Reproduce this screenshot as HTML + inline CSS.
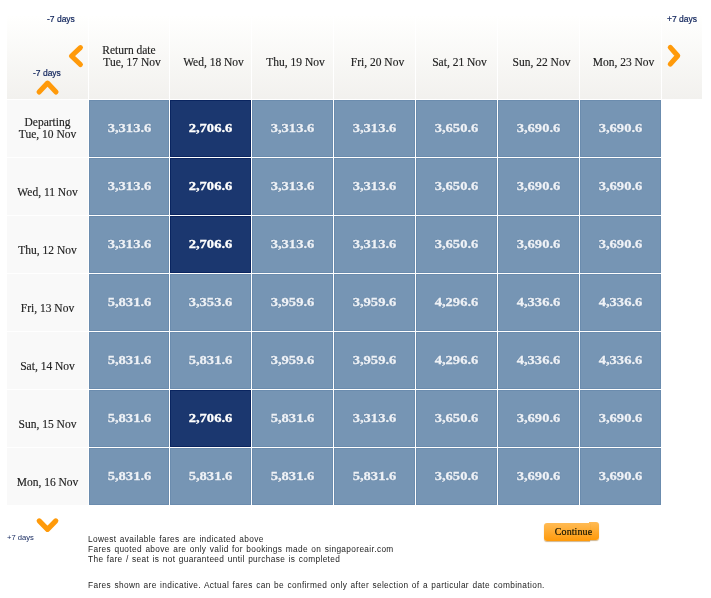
<!DOCTYPE html>
<html><head><meta charset="utf-8"><title>Fare calendar</title>
<style>
html,body{margin:0;padding:0;background:#fff;}
body{width:711px;height:598px;position:relative;overflow:hidden;font-family:"Liberation Serif",serif;}
.a{position:absolute;box-sizing:border-box;}
.h{background:linear-gradient(#fffffe,#f2f1ee);top:16px;height:83px;}
.n{display:inline-block;transform:scaleX(1.12);-webkit-text-stroke:.3px currentColor;}
.p{padding-left:6px;}
.ht{position:absolute;left:0;right:0;top:28px;text-align:center;font-size:11.5px;letter-spacing:0;line-height:12px;color:#222;-webkit-text-stroke:.15px #222;white-space:nowrap;}
.r{background:#f9f9f9;left:7px;width:81px;height:57px;}
.rt{position:absolute;left:0;right:0;top:16px;text-align:center;font-size:11.5px;letter-spacing:0;line-height:12px;color:#222;-webkit-text-stroke:.15px #222;white-space:nowrap;}
.c{background:#7695b4;border:1px solid #6b8cae;height:57px;text-align:center;color:#eef2f7;font-weight:bold;font-size:13px;line-height:54px;text-shadow:0 0 1px rgba(40,60,90,.5);}
.d{background:#1b376f;border:1px solid #0a2560;color:#fff;}
.s{font-family:"Liberation Sans",sans-serif;color:#10245c;-webkit-text-stroke:.2px #10245c;white-space:nowrap;}
.f{font-family:"Liberation Sans",sans-serif;color:#222;font-size:8.3px;line-height:10px;left:88px;white-space:nowrap;letter-spacing:.36px;word-spacing:.75px;}
</style></head><body>

<div class="a h" style="left:7px;width:81px"></div>
<div class="a h" style="left:89px;width:80px"><div class="ht">Return date<br><span class="p">Tue, 17 Nov</span></div></div>
<div class="a h" style="left:170px;width:81px"><div class="ht"><br><span class="p">Wed, 18 Nov</span></div></div>
<div class="a h" style="left:252px;width:81px"><div class="ht"><br><span class="p">Thu, 19 Nov</span></div></div>
<div class="a h" style="left:334px;width:81px"><div class="ht"><br><span class="p">Fri, 20 Nov</span></div></div>
<div class="a h" style="left:416px;width:81px"><div class="ht"><br><span class="p">Sat, 21 Nov</span></div></div>
<div class="a h" style="left:498px;width:81px"><div class="ht"><br><span class="p">Sun, 22 Nov</span></div></div>
<div class="a h" style="left:580px;width:81px"><div class="ht"><br><span class="p">Mon, 23 Nov</span></div></div>
<div class="a h" style="left:662px;width:40px"></div>
<div class="a r" style="top:100px"><div class="rt">Departing<br>Tue, 10 Nov</div></div>
<div class="a c" style="left:89px;top:100px;width:80px"><span class="n">3,313.6</span></div>
<div class="a c d" style="left:170px;top:100px;width:81px"><span class="n">2,706.6</span></div>
<div class="a c" style="left:252px;top:100px;width:81px"><span class="n">3,313.6</span></div>
<div class="a c" style="left:334px;top:100px;width:81px"><span class="n">3,313.6</span></div>
<div class="a c" style="left:416px;top:100px;width:81px"><span class="n">3,650.6</span></div>
<div class="a c" style="left:498px;top:100px;width:81px"><span class="n">3,690.6</span></div>
<div class="a c" style="left:580px;top:100px;width:81px"><span class="n">3,690.6</span></div>
<div class="a r" style="top:158px"><div class="rt"><br>Wed, 11 Nov</div></div>
<div class="a c" style="left:89px;top:158px;width:80px"><span class="n">3,313.6</span></div>
<div class="a c d" style="left:170px;top:158px;width:81px"><span class="n">2,706.6</span></div>
<div class="a c" style="left:252px;top:158px;width:81px"><span class="n">3,313.6</span></div>
<div class="a c" style="left:334px;top:158px;width:81px"><span class="n">3,313.6</span></div>
<div class="a c" style="left:416px;top:158px;width:81px"><span class="n">3,650.6</span></div>
<div class="a c" style="left:498px;top:158px;width:81px"><span class="n">3,690.6</span></div>
<div class="a c" style="left:580px;top:158px;width:81px"><span class="n">3,690.6</span></div>
<div class="a r" style="top:216px"><div class="rt"><br>Thu, 12 Nov</div></div>
<div class="a c" style="left:89px;top:216px;width:80px"><span class="n">3,313.6</span></div>
<div class="a c d" style="left:170px;top:216px;width:81px"><span class="n">2,706.6</span></div>
<div class="a c" style="left:252px;top:216px;width:81px"><span class="n">3,313.6</span></div>
<div class="a c" style="left:334px;top:216px;width:81px"><span class="n">3,313.6</span></div>
<div class="a c" style="left:416px;top:216px;width:81px"><span class="n">3,650.6</span></div>
<div class="a c" style="left:498px;top:216px;width:81px"><span class="n">3,690.6</span></div>
<div class="a c" style="left:580px;top:216px;width:81px"><span class="n">3,690.6</span></div>
<div class="a r" style="top:274px"><div class="rt"><br>Fri, 13 Nov</div></div>
<div class="a c" style="left:89px;top:274px;width:80px"><span class="n">5,831.6</span></div>
<div class="a c" style="left:170px;top:274px;width:81px"><span class="n">3,353.6</span></div>
<div class="a c" style="left:252px;top:274px;width:81px"><span class="n">3,959.6</span></div>
<div class="a c" style="left:334px;top:274px;width:81px"><span class="n">3,959.6</span></div>
<div class="a c" style="left:416px;top:274px;width:81px"><span class="n">4,296.6</span></div>
<div class="a c" style="left:498px;top:274px;width:81px"><span class="n">4,336.6</span></div>
<div class="a c" style="left:580px;top:274px;width:81px"><span class="n">4,336.6</span></div>
<div class="a r" style="top:332px"><div class="rt"><br>Sat, 14 Nov</div></div>
<div class="a c" style="left:89px;top:332px;width:80px"><span class="n">5,831.6</span></div>
<div class="a c" style="left:170px;top:332px;width:81px"><span class="n">5,831.6</span></div>
<div class="a c" style="left:252px;top:332px;width:81px"><span class="n">3,959.6</span></div>
<div class="a c" style="left:334px;top:332px;width:81px"><span class="n">3,959.6</span></div>
<div class="a c" style="left:416px;top:332px;width:81px"><span class="n">4,296.6</span></div>
<div class="a c" style="left:498px;top:332px;width:81px"><span class="n">4,336.6</span></div>
<div class="a c" style="left:580px;top:332px;width:81px"><span class="n">4,336.6</span></div>
<div class="a r" style="top:390px"><div class="rt"><br>Sun, 15 Nov</div></div>
<div class="a c" style="left:89px;top:390px;width:80px"><span class="n">5,831.6</span></div>
<div class="a c d" style="left:170px;top:390px;width:81px"><span class="n">2,706.6</span></div>
<div class="a c" style="left:252px;top:390px;width:81px"><span class="n">5,831.6</span></div>
<div class="a c" style="left:334px;top:390px;width:81px"><span class="n">3,313.6</span></div>
<div class="a c" style="left:416px;top:390px;width:81px"><span class="n">3,650.6</span></div>
<div class="a c" style="left:498px;top:390px;width:81px"><span class="n">3,690.6</span></div>
<div class="a c" style="left:580px;top:390px;width:81px"><span class="n">3,690.6</span></div>
<div class="a r" style="top:448px"><div class="rt"><br>Mon, 16 Nov</div></div>
<div class="a c" style="left:89px;top:448px;width:80px"><span class="n">5,831.6</span></div>
<div class="a c" style="left:170px;top:448px;width:81px"><span class="n">5,831.6</span></div>
<div class="a c" style="left:252px;top:448px;width:81px"><span class="n">5,831.6</span></div>
<div class="a c" style="left:334px;top:448px;width:81px"><span class="n">5,831.6</span></div>
<div class="a c" style="left:416px;top:448px;width:81px"><span class="n">3,650.6</span></div>
<div class="a c" style="left:498px;top:448px;width:81px"><span class="n">3,690.6</span></div>
<div class="a c" style="left:580px;top:448px;width:81px"><span class="n">3,690.6</span></div>
<div class="a s" style="left:47px;top:13px;font-size:8.5px;line-height:12px">-7 days</div>
<div class="a s" style="left:33px;top:67px;font-size:8.5px;line-height:12px">-7 days</div>
<div class="a s" style="left:667px;top:13px;font-size:8.5px;line-height:12px">+7 days</div>
<div class="a s" style="left:7px;top:532.2px;font-size:7.6px;line-height:12px;letter-spacing:0;-webkit-text-stroke:0">+7 days</div>
<svg class="a" style="left:0;top:0" width="711" height="598" viewBox="0 0 711 598" fill="none" stroke="#ff9a0a" stroke-width="5.1" stroke-linecap="round" stroke-linejoin="round">
<path d="M80.4 47.6 L71.5 56 L80.4 64.5"/>
<path d="M670.3 47.4 L677.7 55.75 L670.3 64.1"/>
<path d="M39.1 92 L47.55 83.1 L56 92"/>
<path d="M39.2 520.9 L47.5 529.4 L55.8 520.9"/>
</svg>
<div class="a f" style="top:534px">Lowest available fares are indicated above</div>
<div class="a f" style="top:544px">Fares quoted above are only valid for bookings made on singaporeair.com</div>
<div class="a f" style="top:554px">The fare / seat is not guaranteed until purchase is completed</div>
<div class="a f" style="top:580px">Fares shown are indicative. Actual fares can be confirmed only after selection of a particular date combination.</div>
<div class="a" style="left:589px;top:522.4px;width:10px;height:18px;border-radius:0 3px 3px 0;background:linear-gradient(#ffbb55,#ff9a0a);box-shadow:0 1px 1px rgba(150,90,0,.45)"></div>
<div class="a" style="left:544px;top:523px;width:46px;height:18px;border-radius:3px 0 0 3px;background:linear-gradient(#ffbb55,#ff9a0a);box-shadow:0 1px 1px rgba(150,90,0,.45)"></div>
<div class="a" style="left:544px;top:523px;width:55px;height:18px;text-align:center;font-size:10px;line-height:18px;color:#141400;-webkit-text-stroke:.2px #141400;padding-left:4px;letter-spacing:.1px">Continue</div>
</body></html>
